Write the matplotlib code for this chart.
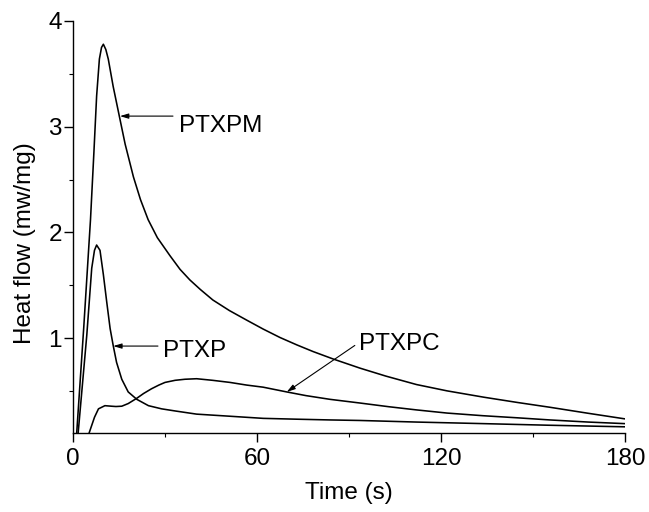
import matplotlib
matplotlib.use("Agg")
import matplotlib.pyplot as plt
from matplotlib.ticker import MultipleLocator

plt.rcParams['font.family'] = ['Liberation Sans', 'DejaVu Sans']

# --- data ---
t_ptxpm = [0, 1.2, 3.5, 5.7, 6.8, 7.7, 8.6, 9.3, 9.9, 10.7, 11.5, 13.1, 15.1, 17, 19.7, 22,
           24.5, 27.5, 31.6, 34.9, 38.1, 41.5, 45.6, 51, 56.6, 62, 67.5, 73, 78.3, 85, 93.6,
           102, 112, 122, 134, 145, 155.5, 168, 180]
v_ptxpm = [0, 0.1, 1.1, 2.12, 2.75, 3.29, 3.64, 3.75, 3.78, 3.73, 3.64, 3.38, 3.10, 2.835,
           2.525, 2.31, 2.12, 1.95, 1.78, 1.65, 1.55, 1.46, 1.36, 1.26, 1.17, 1.085, 1.005,
           0.935, 0.872, 0.8, 0.715, 0.64, 0.56, 0.5, 0.44, 0.39, 0.345, 0.288, 0.235]

t_ptxp = [0, 1.2, 1.7, 4.5, 6.1, 7.0, 7.7, 8.8, 9.9, 11.0, 12.1, 13.1, 14.2, 15.9, 18.0, 20.8,
          24.6, 28.9, 33.3, 40.3, 51.2, 62, 73, 83.8, 93.6, 112, 134, 155, 180]
v_ptxp = [0, 0, 0.11, 1.03, 1.66, 1.83, 1.88, 1.83, 1.6, 1.34, 1.09, 0.93, 0.77, 0.61, 0.49,
          0.42, 0.36, 0.33, 0.31, 0.28, 0.26, 0.24, 0.232, 0.225, 0.22, 0.205, 0.19, 0.175,
          0.16]

t_ptxpc = [0, 4.5, 5, 7, 8.3, 10.4, 12.5, 14, 15.9, 18, 20.8, 23, 25.6, 28, 30, 33.3, 36.5,
           40.3, 45.5, 51.2, 56.6, 62, 69.7, 76, 83.8, 93.6, 103, 112, 122, 133.7, 145, 155.5,
           168, 180]
v_ptxpc = [0, 0, 0.08, 0.25, 0.33, 0.36, 0.355, 0.352, 0.355, 0.38, 0.43, 0.475, 0.52, 0.555,
           0.58, 0.6, 0.61, 0.615, 0.6, 0.58, 0.555, 0.535, 0.49, 0.455, 0.42, 0.385, 0.35,
           0.32, 0.29, 0.265, 0.245, 0.225, 0.205, 0.19]

labels = ["PTXPM", "PTXP", "PTXPC"]
x_ticks = [0, 60, 120, 180]
y_ticks = [1, 2, 3, 4]

FS = 17.5

fig = plt.figure(figsize=(6.49, 5.12), dpi=100)
ax = fig.add_axes([0.1125, 0.154, 0.8505, 0.805])

for t, v in [(t_ptxpm, v_ptxpm), (t_ptxp, v_ptxp), (t_ptxpc, v_ptxpc)]:
    ax.plot(t, v, color='black', lw=1.15)

ax.set_xlim(0, 180)
ax.set_ylim(0.1, 4)
ax.set_xticks(x_ticks)
ax.set_yticks(y_ticks)
ax.xaxis.set_minor_locator(MultipleLocator(30))
ax.yaxis.set_minor_locator(MultipleLocator(0.5))
ax.spines['top'].set_visible(False)
ax.spines['right'].set_visible(False)
for s in ['left', 'bottom']:
    ax.spines[s].set_linewidth(1.0)
ax.tick_params(which='major', direction='out', length=6.5, width=1.0, labelsize=FS)
ax.tick_params(axis='x', which='major', pad=4.5)
ax.tick_params(axis='y', which='major', pad=1.5)
ax.tick_params(which='minor', direction='out', length=3, width=0.8)

ax.set_xlabel("Time (s)", fontsize=FS)
ax.set_ylabel("Heat flow (mw/mg)", fontsize=FS)
ax.xaxis.set_label_coords(0.5, -0.118)
ax.yaxis.set_label_coords(-0.067, 0.46)

arrow = dict(arrowstyle='-|>,head_length=0.5,head_width=0.15', color='black', lw=0.8,
             shrinkA=0, shrinkB=0)
ax.annotate("", xy=(15.3, 3.10), xytext=(32.6, 3.10), arrowprops=arrow)
ax.text(34.6, 2.953, labels[0], fontsize=FS, va='baseline', ha='left')
ax.annotate("", xy=(13.1, 0.924), xytext=(27.7, 0.924), arrowprops=arrow)
ax.text(29.2, 0.82, labels[1], fontsize=FS, va='baseline', ha='left')
ax.annotate("", xy=(69.7, 0.49), xytext=(91.9, 0.93), arrowprops=arrow)
ax.text(93.4, 0.883, labels[2], fontsize=FS, va='baseline', ha='left')

fig.savefig("out.png", dpi=100, facecolor='white')
